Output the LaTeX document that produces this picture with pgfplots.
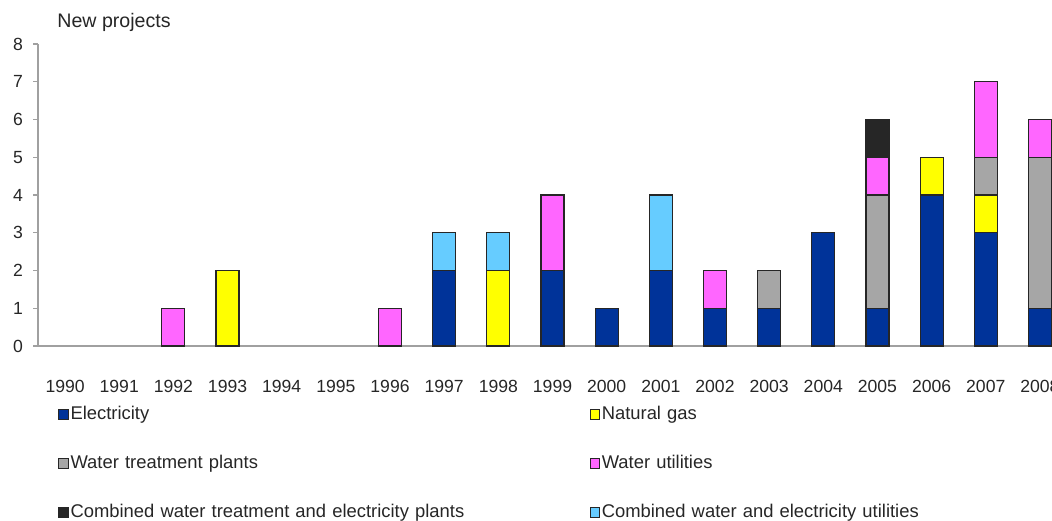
\documentclass[border=0pt]{standalone}
\usepackage{fontspec}
\setmainfont{Liberation Sans}
\usepackage{pgfplots}
\usepackage{pgfplotstable}
\pgfplotsset{compat=1.18}
\definecolor{elec}{HTML}{003399}
\definecolor{gas}{HTML}{FFFF00}
\definecolor{wtp}{HTML}{A6A6A6}
\definecolor{wut}{HTML}{FF66FF}
\definecolor{cwe}{HTML}{262626}
\definecolor{cwu}{HTML}{66CCFF}
\definecolor{axisgray}{HTML}{A0A0A0}
\definecolor{txt}{HTML}{262626}
\pgfplotstableread{
x  elec gas wt wu cp cu
2  0    0   0  1  0  0
3  0    2   0  0  0  0
6  0    0   0  1  0  0
7  2    0   0  0  0  1
8  0    2   0  0  0  1
9  2    0   0  2  0  0
10 1    0   0  0  0  0
11 2    0   0  0  0  2
12 1    0   0  1  0  0
13 1    0   1  0  0  0
14 3    0   0  0  0  0
15 1    0   3  1  1  0
16 4    1   0  0  0  0
17 3    1   1  2  0  0
18 1    0   4  1  0  0
}\datatable
\begin{document}
\begin{tikzpicture}
\path[use as bounding box] (0,0) rectangle (526pt,260pt);
\clip (0,0) rectangle (526pt,260pt);
\begin{axis}[
  at={(19pt,87pt)}, anchor=south west,
  scale only axis, width=514.5pt, height=151pt,
  ybar stacked, bar width=11.5pt,
  xmin=-0.5, xmax=18.5, ymin=0, ymax=8,
  xtick={0,...,18},
  xticklabels={1990,1991,1992,1993,1994,1995,1996,1997,1998,1999,2000,2001,2002,2003,2004,2005,2006,2007,2008},
  ytick={0,...,8},
  axis x line=bottom, axis y line=left,
  axis line style={-, draw=axisgray, line width=0.6pt},
  tick align=outside, major tick length=2.5pt,
  ytick style={draw=axisgray, line width=0.6pt}, xtick style={draw=none},
  tick label style={font=\fontsize{8.8}{10}\selectfont, text=txt},
  /pgf/number format/assume math mode=true,
  yticklabel style={xshift=-1.5pt},
  xticklabel style={yshift=-11pt},
  title={New projects},
  title style={at={(0.0185,1.079)}, anchor=west, yshift=-7pt, inner sep=0pt, font=\fontsize{9.8}{11}\selectfont, text=txt},
  legend columns=2,
  legend style={at={(0.0194,-0.179)}, anchor=north west, draw=none, fill=none, inner sep=0pt,
    font=\fontsize{9.2}{10}\selectfont, text=txt, row sep=10.4pt,
    nodes={inner xsep=1pt, inner ysep=2.8pt, text width=258.5pt, align=left, text height=6.5pt, text depth=2pt}},
  legend cell align=left,
  legend image code/.code={\draw[#1, draw=black!85, line width=0.5pt] (0pt,-2.3pt) rectangle (4.6pt,2.3pt);},
  every axis plot/.append style={draw=black!85, line width=0.6pt},
]
\addplot[fill=elec] table[x=x, y=elec] {\datatable};
\addlegendentry{Electricity}
\addplot[fill=gas] table[x=x, y=gas] {\datatable};
\addlegendentry{Natural gas}
\addplot[fill=wtp] table[x=x, y=wt] {\datatable};
\addlegendentry{Water treatment plants}
\addplot[fill=wut] table[x=x, y=wu] {\datatable};
\addlegendentry{Water utilities}
\addplot[fill=cwe] table[x=x, y=cp] {\datatable};
\addlegendentry{Combined water treatment and electricity plants}
\addplot[fill=cwu] table[x=x, y=cu] {\datatable};
\addlegendentry{Combined water and electricity utilities}
\end{axis}
\end{tikzpicture}
\end{document}
